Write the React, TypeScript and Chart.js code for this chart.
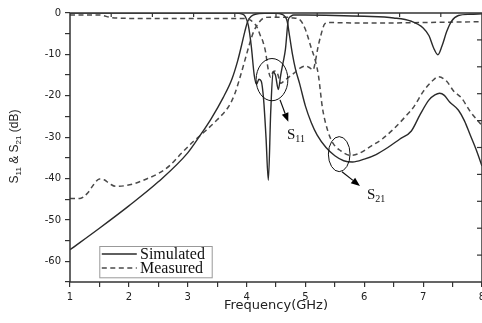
import React, { useEffect, useRef } from 'react';
import { Chart, registerables } from 'chart.js';

Chart.register(...registerables);

// ---- data (frequency in GHz, magnitude in dB) ----
const simS11Freq = [1, 2, 3, 3.8, 3.93, 3.98, 4.03, 4.08, 4.13, 4.17, 4.21, 4.25, 4.29, 4.33, 4.37, 4.41, 4.45, 4.49, 4.54, 4.58, 4.62, 4.66, 4.71, 4.75, 4.8, 5.0, 5.5, 6.0, 6.5, 6.8, 7.0, 7.1, 7.18, 7.25, 7.32, 7.4, 7.48, 7.6, 7.8, 8.0];
const simS11 = [0, 0, 0, 0, -0.3, -0.9, -3, -8, -15, -17.2, -16, -16.5, -21, -30, -40.4, -24, -14.3, -15, -18.5, -15, -12, -8.8, -1.6, -0.8, -0.5, -0.5, -0.6, -0.8, -1.2, -2, -3.6, -5.5, -8.5, -10.1, -8, -4.5, -2, -0.6, -0.3, -0.2];

const measS11Freq = [1, 1.5, 1.7, 2.0, 3.0, 3.95, 4.05, 4.13, 4.18, 4.23, 4.28, 4.32, 4.37, 4.41, 4.45, 4.49, 4.53, 4.58, 4.63, 4.7, 4.8, 4.9, 5.0, 5.08, 5.13, 5.17, 5.21, 5.26, 5.33, 5.4, 5.8, 6.5, 7.0, 7.5, 8.0];
const measS11 = [-0.5, -0.5, -1.1, -1.3, -1.3, -1.3, -1.6, -2.5, -3.5, -5.3, -7, -9.2, -13.8, -15.5, -14.2, -14, -14.8, -17, -16.5, -15.7, -14.6, -13.4, -12.8, -13.3, -13.8, -11.6, -8.5, -5.5, -2.6, -2.3, -2.4, -2.4, -2.3, -2.2, -2.1];

const simS21Freq = [1, 1.5, 2, 2.5, 3, 3.2, 3.4, 3.6, 3.75, 3.85, 3.92, 3.97, 4.02, 4.08, 4.15, 4.3, 4.5, 4.6, 4.65, 4.69, 4.73, 4.78, 4.83, 4.9, 5.0, 5.1, 5.2, 5.35, 5.5, 5.65, 5.8, 6.0, 6.2, 6.4, 6.6, 6.8, 6.95, 7.1, 7.2, 7.28, 7.36, 7.45, 7.6, 7.7, 7.8, 7.9, 8.0];
const simS21 = [-57.2, -52, -46.6, -40.8, -33.8, -29.8, -25.5, -20.5, -16, -11.5, -7.5, -4.5, -2, -0.8, -0.3, -0.1, -0.1, -0.3, -0.8, -2, -5.5, -10, -13.5, -17, -22.5, -26.5, -29.5, -32.5, -34.5, -35.7, -36, -35.3, -34.2, -32.5, -30.5, -28.5, -24.5, -21, -19.8, -19.4, -19.9, -21.5, -23.5, -26, -29.5, -33, -37];

const measS21Freq = [1, 1.17, 1.3, 1.4, 1.5, 1.58, 1.68, 1.78, 1.95, 2.1, 2.3, 2.5, 2.7, 2.9, 3.1, 3.3, 3.5, 3.7, 3.8, 3.9, 3.97, 4.05, 4.12, 4.2, 4.28, 4.4, 4.6, 4.8, 4.91, 5.0, 5.1, 5.17, 5.22, 5.29, 5.38, 5.47, 5.6, 5.76, 5.9, 6.1, 6.3, 6.5, 6.7, 6.85, 7.0, 7.15, 7.26, 7.4, 7.52, 7.65, 7.8, 8.0];
const measS21 = [-44.8, -44.8, -43.5, -41.5, -40.1, -40.3, -41.3, -41.9, -41.7, -41.2, -40.1, -38.8, -36.8, -33.8, -31, -28.5, -25.8, -22.5, -19.5, -15, -11.5, -7.5, -4.5, -2.5, -1.3, -1.0, -1.0, -1.2, -1.7, -4, -8.5, -11.6, -15, -23, -28.5, -31.5, -33.3, -34.4, -34, -32.3, -30.5, -28, -25, -22.5, -19, -16.5, -15.4, -16.5, -18.9, -20.5, -23.8, -27.2];

const seriesLabels = ['Simulated', 'Measured'];
const xTitle = 'Frequency(GHz)';
const yTitleParts: [string, boolean][] = [['S', false], ['11', true], [' & S', false], ['21', true], [' (dB)', false]];

// annotations (data coordinates)
const ellipses = [
  { x: 4.432, y: -16.1, rx: 0.27, ry: 5.1 },
  { x: 5.574, y: -34.1, rx: 0.184, ry: 4.23 },
];
const arrows = [
  { x1: 4.568, y1: -21.0, x2: 4.709, y2: -26.3 },
  { x1: 5.621, y1: -38.35, x2: 5.927, y2: -41.8 },
];
const annoLabels = [
  { x: 4.687, y: -30.4, main: 'S', sub: '11' },
  { x: 6.046, y: -45.0, main: 'S', sub: '21' },
];

const pts = (xs: number[], ys: number[]) => xs.map((x, i) => ({ x, y: ys[i] }));

const SOLID = '#2a2a2a';
const DASHED = '#4a4a4a';
const DASH = [5, 3.5];

const decorPlugin = {
  id: 'decor',
  afterDatasetsDraw(chart: any) {
    const { ctx, chartArea: a, scales } = chart;
    const xs = scales.x, ys = scales.y;
    ctx.save();
    // frame
    ctx.strokeStyle = '#333';
    ctx.lineWidth = 1.5;
    ctx.strokeRect(a.left, a.top, a.right - a.left, a.bottom - a.top);
    // top & right inner ticks
    ctx.lineWidth = 1.2;
    for (let i = 1; i < 10; i++) {
      const px = a.left + ((a.right - a.left) * i) / 10;
      ctx.beginPath();
      ctx.moveTo(px, a.top);
      ctx.lineTo(px, a.top + 4);
      ctx.stroke();
      const py = a.bottom - ((a.bottom - a.top) * i) / 10;
      ctx.beginPath();
      ctx.moveTo(a.right, py);
      ctx.lineTo(a.right - 5, py);
      ctx.stroke();
    }
    // ellipses
    ctx.strokeStyle = '#111';
    ctx.lineWidth = 1;
    ellipses.forEach((e) => {
      const cx = xs.getPixelForValue(e.x);
      const cy = ys.getPixelForValue(e.y);
      const rx = Math.abs(xs.getPixelForValue(e.x + e.rx) - cx);
      const ry = Math.abs(ys.getPixelForValue(e.y + e.ry) - cy);
      ctx.beginPath();
      ctx.ellipse(cx, cy, rx, ry, 0, 0, Math.PI * 2);
      ctx.stroke();
    });
    // arrows
    arrows.forEach((r) => {
      const x1 = xs.getPixelForValue(r.x1), y1 = ys.getPixelForValue(r.y1);
      const x2 = xs.getPixelForValue(r.x2), y2 = ys.getPixelForValue(r.y2);
      const ang = Math.atan2(y2 - y1, x2 - x1);
      const hl = 9, hw = 3.5;
      const bx = x2 - hl * Math.cos(ang), by = y2 - hl * Math.sin(ang);
      ctx.lineWidth = 1.2;
      ctx.beginPath();
      ctx.moveTo(x1, y1);
      ctx.lineTo(bx, by);
      ctx.stroke();
      ctx.fillStyle = '#000';
      ctx.beginPath();
      ctx.moveTo(x2, y2);
      ctx.lineTo(bx + hw * Math.sin(ang), by - hw * Math.cos(ang));
      ctx.lineTo(bx - hw * Math.sin(ang), by + hw * Math.cos(ang));
      ctx.closePath();
      ctx.fill();
    });
    // labels S11 / S21
    ctx.fillStyle = '#111';
    ctx.textBaseline = 'alphabetic';
    ctx.textAlign = 'left';
    annoLabels.forEach((l) => {
      const px = xs.getPixelForValue(l.x), py = ys.getPixelForValue(l.y);
      ctx.font = '15px "Liberation Serif", serif';
      ctx.fillText(l.main, px, py);
      const w = ctx.measureText(l.main).width;
      ctx.font = '10px "Liberation Serif", serif';
      ctx.fillText(l.sub, px + w, py + 3);
    });
    // legend
    const ds = chart.data.datasets;
    const bx = a.left + 29.3, by = a.bottom - 36, bw = 112.4, bh = 31.3;
    ctx.fillStyle = '#fff';
    ctx.fillRect(bx, by, bw, bh);
    ctx.strokeStyle = '#999';
    ctx.lineWidth = 1;
    ctx.strokeRect(bx + 0.5, by + 0.5, bw, bh);
    const rows = [by + 8, by + 22];
    const bases = [by + 12.5, by + 26.5];
    for (let i = 0; i < 2; i++) {
      const d = ds[i];
      ctx.strokeStyle = d.borderColor;
      ctx.lineWidth = d.borderWidth;
      ctx.setLineDash(d.borderDash || []);
      ctx.beginPath();
      ctx.moveTo(bx + 2.5, rows[i]);
      ctx.lineTo(bx + 37.5, rows[i]);
      ctx.stroke();
      ctx.setLineDash([]);
      ctx.fillStyle = '#111';
      ctx.font = '16px "Liberation Serif", serif';
      ctx.fillText(d.label, bx + 40.7, bases[i]);
    }
    // y title
    ctx.save();
    ctx.translate(15, (a.top + a.bottom) / 2 - 1);
    ctx.rotate(-Math.PI / 2);
    ctx.fillStyle = '#222';
    const big = '12px "Liberation Sans", Arial, sans-serif';
    const small = '8px "Liberation Sans", Arial, sans-serif';
    let total = 0;
    yTitleParts.forEach(([t, sub]) => {
      ctx.font = sub ? small : big;
      total += ctx.measureText(t).width;
    });
    let cx = -total / 2;
    ctx.textBaseline = 'middle';
    yTitleParts.forEach(([t, sub]) => {
      ctx.font = sub ? small : big;
      ctx.fillText(t, cx, sub ? 3.5 : 0);
      cx += ctx.measureText(t).width;
    });
    ctx.restore();
    ctx.restore();
  },
};

export default function App() {
  const ref = useRef<HTMLCanvasElement | null>(null);
  useEffect(() => {
    document.body.style.margin = '0';
    const canvas = ref.current!;
    const tickFont = { family: '"DejaVu Sans", sans-serif', size: 10 };
    const chart = new Chart(canvas, {
      type: 'line',
      data: {
        datasets: [
          { label: seriesLabels[0], data: pts(simS11Freq, simS11), borderColor: SOLID, borderWidth: 1.4, pointRadius: 0, cubicInterpolationMode: 'monotone', fill: false },
          { label: seriesLabels[1], data: pts(measS11Freq, measS11), borderColor: DASHED, borderWidth: 1.5, borderDash: DASH, pointRadius: 0, cubicInterpolationMode: 'monotone', fill: false },
          { label: seriesLabels[0] + ' S21', data: pts(simS21Freq, simS21), borderColor: SOLID, borderWidth: 1.4, pointRadius: 0, cubicInterpolationMode: 'monotone', fill: false },
          { label: seriesLabels[1] + ' S21', data: pts(measS21Freq, measS21), borderColor: DASHED, borderWidth: 1.5, borderDash: DASH, pointRadius: 0, cubicInterpolationMode: 'monotone', fill: false },
        ],
      } as any,
      options: {
        responsive: false,
        animation: false,
        devicePixelRatio: 1,
        layout: { padding: { top: 13, left: 0, right: 0, bottom: 0 } },
        plugins: { legend: { display: false }, tooltip: { enabled: false } },
        scales: {
          x: {
            type: 'linear',
            min: 1,
            max: 8,
            afterFit: (s: any) => { s.height = 41; s.paddingLeft = 0; s.paddingRight = 0; },
            ticks: {
              stepSize: 0.5,
              autoSkip: false,
              maxRotation: 0,
              padding: 4,
              color: '#222',
              font: tickFont,
              callback: (v: any) => (Number.isInteger(Number(v)) ? String(v) : ''),
            },
            grid: { drawOnChartArea: false, drawTicks: true, tickLength: 5, color: '#333', lineWidth: 1.2 },
            border: { display: false },
            title: {
              display: true,
              text: xTitle,
              color: '#222',
              font: { family: '"DejaVu Sans", sans-serif', size: 13 },
              padding: { top: 0, bottom: 9.5 },
            },
          },
          y: {
            type: 'linear',
            min: -65,
            max: 0,
            afterFit: (s: any) => { s.width = 70; s.paddingTop = 0; s.paddingBottom = 0; },
            ticks: {
              stepSize: 5,
              autoSkip: false,
              padding: 4,
              color: '#222',
              font: tickFont,
              callback: (v: any) => (Number(v) % 10 === 0 ? String(v) : ''),
            },
            grid: { drawOnChartArea: false, drawTicks: true, tickLength: 5, color: '#333', lineWidth: 1.2 },
            border: { display: false },
          },
        },
      } as any,
      plugins: [decorPlugin],
    });
    return () => chart.destroy();
  }, []);
  return (
    <div style={{ position: 'absolute', left: 0, top: 0, width: 482, height: 323, background: '#fff' }}>
      <canvas ref={ref} width={482} height={323} />
    </div>
  );
}
